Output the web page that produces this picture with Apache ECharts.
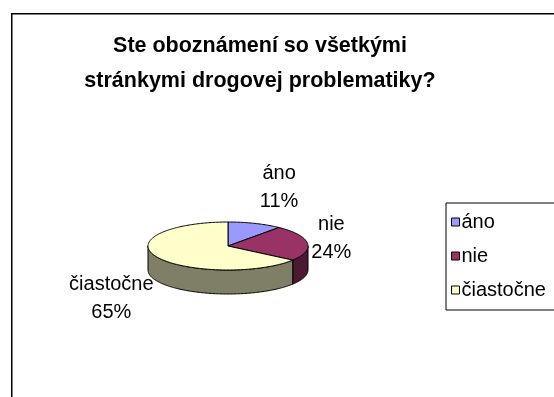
<!DOCTYPE html>
<html>
<head>
<meta charset="utf-8">
<script src="https://cdn.jsdelivr.net/npm/echarts@6/dist/echarts.min.js"></script>
<style>
  html, body { margin: 0; padding: 0; background: #fff; }
  #chart { width: 554px; height: 397px; }
</style>
</head>
<body>
<div id="chart"></div>
<script>
// Survey answers (percent of respondents)
const categories = ['áno', 'nie', 'čiastočne'];
const values = [11, 24, 65];

// Slice colours: top face and darker side wall
const topColors = ['#9999ff', '#993366', '#ffffcc'];
const sideColors = ['#4c4c7f', '#4c1933', '#7f7f66'];

const FONT = "'Liberation Sans', Arial, sans-serif";

// Geometry of the tilted pie (pixels)
const PIE = { cx: 228, cy: 246, rx: 80, ry: 24, depth: 24, labelGap: 10 };

const total = values.reduce((a, b) => a + b, 0);

function pt(theta, dy) {
  return [PIE.cx + PIE.rx * Math.sin(theta), PIE.cy - PIE.ry * Math.cos(theta) + (dy || 0)];
}

function arc(a0, a1, dy) {
  const pts = [];
  const n = Math.max(2, Math.ceil((a1 - a0) / (Math.PI / 180)));
  for (let k = 0; k <= n; k++) pts.push(pt(a0 + (a1 - a0) * k / n, dy));
  return pts;
}

function makeRender(i) {
  return function (params, api) {
    const before = values.slice(0, i).reduce((a, b) => a + b, 0);
    const v = api.value(0);
    // angles measured clockwise from 12 o'clock
    const a0 = before / total * Math.PI * 2;
    const a1 = (before + v) / total * Math.PI * 2;
    const children = [];

    // visible side wall: front half of the rim
    const s = Math.max(a0, Math.PI / 2), e = Math.min(a1, Math.PI * 1.5);
    if (e > s) {
      const top = arc(s, e, 0);
      const bottom = arc(s, e, PIE.depth).reverse();
      children.push({
        type: 'polygon',
        shape: { points: top.concat(bottom) },
        style: { fill: sideColors[i], stroke: '#000', lineWidth: 1 },
        z2: 1
      });
    }

    // top face
    children.push({
      type: 'polygon',
      shape: { points: [[PIE.cx, PIE.cy]].concat(arc(a0, a1, 0)) },
      style: { fill: topColors[i], stroke: '#000', lineWidth: 1 },
      z2: 2
    });

    // data label: name and percentage, pushed outward from the rim
    const mid = (a0 + a1) / 2;
    const sx = Math.sin(mid), cy = Math.cos(mid);
    const text = categories[i] + '\n' + Math.round(v / total * 100) + '%';
    const w = Math.max(categories[i].length * 9.2, 40);
    const h = 56;
    const lx = PIE.cx + sx * PIE.rx + Math.sign(sx) * (w / 2 + 4);
    const ly = PIE.cy - cy * (PIE.ry + PIE.labelGap) - cy * h / 2 + (cy < 0 ? PIE.depth : 0);
    children.push({
      type: 'text',
      x: lx, y: ly,
      style: {
        text: text, align: 'center', verticalAlign: 'middle',
        font: '20px ' + FONT, lineHeight: 28, fill: '#000'
      },
      z2: 3
    });

    return { type: 'group', children: children };
  };
}

const chart = echarts.init(document.getElementById('chart'));
chart.setOption({
  animation: false,
  color: topColors,
  title: {
    text: 'Ste oboznámení so všetkými\nstránkymi drogovej problematiky?',
    left: 260, top: 29, padding: 0,
    textAlign: 'center',
    textStyle: { fontFamily: FONT, fontWeight: 'bold', fontSize: 21.5, lineHeight: 35, color: '#000' }
  },
  legend: {
    orient: 'vertical',
    left: 446, top: 203,
    padding: [9, 10, 10, 5],
    itemWidth: 8, itemHeight: 8, itemGap: 14,
    icon: 'rect',
    borderColor: '#000', borderWidth: 1,
    itemStyle: { borderColor: '#000', borderWidth: 1 },
    textStyle: { fontFamily: FONT, fontSize: 20, color: '#000', padding: [0, 0, 0, -3] },
    data: categories
  },
  graphic: [{
    type: 'rect',
    shape: { x: 11.75, y: 13.75, width: 700, height: 500 },
    style: { fill: null, stroke: '#000', lineWidth: 1.5 },
    silent: true, z: -1
  }],
  series: categories.map((name, i) => ({
    type: 'custom',
    name: name,
    coordinateSystem: 'none',
    renderItem: makeRender(i),
    data: [[values[i]]]
  }))
});
</script>
</body>
</html>
